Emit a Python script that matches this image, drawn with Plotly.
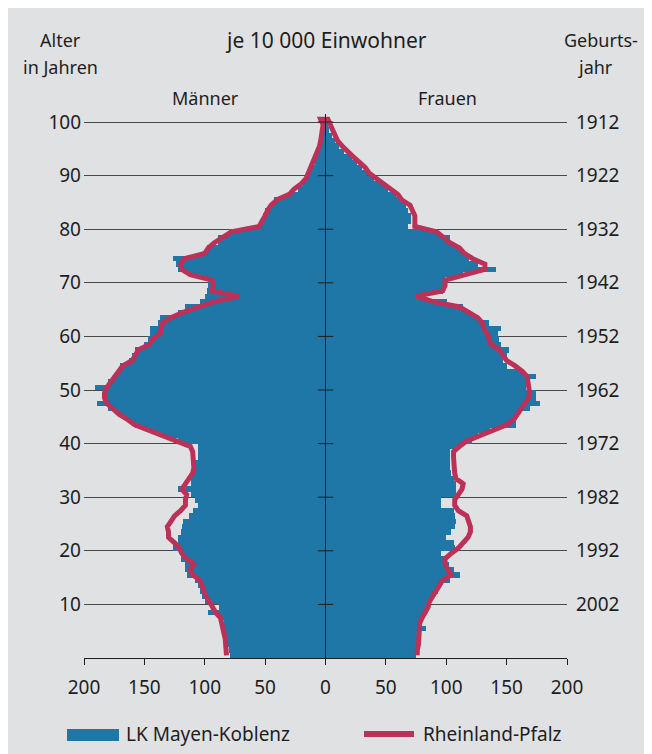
"""Alterspyramide LK Mayen-Koblenz vs. Rheinland-Pfalz (je 10 000 Einwohner)."""
import plotly.graph_objects as go

# ── data (per single year of age 0..100) ────
ages = list(range(0, 101))

mk_maenner = [
    79, 80, 82, 82, 83, 83, 84, 87, 97, 88,
    100, 102, 104, 106, 108, 115, 116, 116, 120, 118,
    126, 122, 122, 120, 119, 118, 113, 110, 106, 108,
    111, 122, 111, 111, 111, 108, 108, 106, 106, 106,
    122, 135, 145, 158, 164, 172, 180, 189, 184, 184,
    191, 180, 175, 172, 170, 163, 160, 158, 150, 147,
    145, 145, 139, 137, 122, 116, 104, 100, 98, 97,
    97, 112, 122, 124, 126, 101, 98, 89, 89, 80,
    55, 54, 52, 50, 45, 43, 30, 23, 19, 15,
    13, 11, 9, 8, 6, 4, 3, 2, 1, 1,
    1,
]
rlp_maenner = [
    82, 82, 83, 83, 84, 85, 86, 87, 91, 93,
    96, 99, 101, 103, 104, 110, 112, 109, 115, 119,
    121, 125, 130, 130, 131, 128, 125, 120, 116, 116,
    115, 119, 116, 112, 110, 109, 109, 109, 110, 112,
    123, 135, 145, 158, 164, 171, 176, 181, 183, 183,
    181, 178, 175, 172, 168, 160, 157, 155, 146, 143,
    137, 136, 135, 128, 118, 105, 92, 72, 94, 93,
    94, 112, 119, 120, 117, 100, 97, 92, 84, 78,
    55, 52, 50, 48, 45, 40, 30, 26, 20, 16,
    14, 12, 10, 8, 7, 5, 4, 3, 3, 2,
    4,
]
mk_frauen = [
    75, 75, 77, 78, 78, 83, 79, 80, 83, 86,
    87, 90, 93, 96, 103, 111, 106, 102, 100, 96,
    107, 106, 100, 104, 107, 108, 107, 106, 96, 96,
    108, 108, 108, 106, 104, 103, 103, 103, 103, 111,
    121, 126, 136, 158, 158, 159, 169, 178, 174, 174,
    166, 166, 174, 163, 150, 147, 150, 152, 145, 144,
    143, 145, 135, 126, 118, 114, 101, 75, 97, 97,
    99, 114, 141, 126, 119, 115, 111, 103, 103, 92,
    68, 71, 71, 68, 67, 62, 58, 52, 48, 40,
    34, 30, 26, 22, 15, 11, 8, 5, 3, 2,
    1,
]
rlp_frauen = [
    76, 76, 77, 77, 77, 78, 78, 80, 82, 85,
    86, 88, 91, 94, 97, 104, 101, 99, 99, 104,
    110, 114, 118, 120, 120, 119, 117, 110, 107, 107,
    110, 113, 114, 108, 107, 107, 106, 106, 106, 111,
    117, 128, 139, 150, 156, 158, 162, 165, 168, 169,
    169, 168, 167, 163, 157, 150, 147, 144, 137, 135,
    134, 131, 130, 126, 118, 111, 89, 75, 97, 99,
    99, 114, 132, 132, 122, 115, 111, 103, 98, 92,
    74, 74, 74, 72, 70, 63, 60, 55, 49, 42,
    36, 33, 28, 23, 18, 14, 10, 8, 6, 4,
    2,
]

x_ticks = [-200, -150, -100, -50, 0, 50, 100, 150, 200]
age_ticks = [10, 20, 30, 40, 50, 60, 70, 80, 90, 100]
year_labels = ["2002", "1992", "1982", "1972", "1962", "1952", "1942", "1932", "1922", "1912"]

BLUE = "#1f77a8"
RED = "#bc3158"
BG = "#e0e1e3"
TXT = "#1e1e1e"
FONT = "Noto Sans"

# ── page geometry (px, in window coordinates) ────────────────────────
# the page body adds an 8 px margin, so the figure itself is shifted
OFF = 8
W, H = 652 - OFF, 754 - OFF
L, R, T, B = 84 - OFF, 85, 114 - OFF, 96
PW, PH = W - L - R, H - T - B


def px(x):
    return (x - OFF - L) / PW


def py(y):
    return (H - B - (y - OFF)) / PH


fig = go.Figure()

mid = [a + 0.5 for a in ages]
fig.add_trace(go.Bar(
    x=[-v for v in mk_maenner], y=mid, orientation="h", width=1,
    marker=dict(color=BLUE, line_width=0), name="LK Mayen-Koblenz",
))
fig.add_trace(go.Bar(
    x=mk_frauen, y=mid, orientation="h", width=1,
    marker=dict(color=BLUE, line_width=0), showlegend=False,
))

# one continuous line: up the men's side, down the women's side
fig.add_trace(go.Scatter(
    x=[-v for v in rlp_maenner] + rlp_frauen[::-1],
    y=mid + mid[::-1],
    mode="lines", line=dict(color=RED, width=5), name="Rheinland-Pfalz",
))

# centre axis ticks
fig.add_trace(go.Scatter(
    x=[0] * len(age_ticks), y=age_ticks, yaxis="y2", mode="markers",
    marker=dict(symbol="line-ew", size=11, line=dict(color=TXT, width=1)),
    hoverinfo="skip", showlegend=False,
))

fig.add_shape(type="line", x0=0, x1=0, y0=0, y1=101.5, xref="x", yref="y",
              line=dict(color=TXT, width=1), layer="above")

fig.update_layout(
    width=W, height=H,
    margin=dict(l=L, r=R, t=T, b=B),
    paper_bgcolor=BG,
    plot_bgcolor=BG,
    font=dict(family=FONT, color=TXT, size=19),
    barmode="overlay", bargap=0,
    showlegend=False,
    xaxis=dict(
        range=[-200, 200], tickvals=x_ticks, ticktext=[str(abs(v)) for v in x_ticks],
        showgrid=False, zeroline=False, showline=True, linecolor=TXT, linewidth=1,
        ticks="outside", ticklen=6, tickcolor=TXT, ticklabelstandoff=6,
    ),
    yaxis=dict(
        range=[0, 101.5], tickvals=age_ticks, showgrid=True, gridcolor="#484848",
        gridwidth=1, zeroline=False, showline=False, ticks="", ticklabelstandoff=2,
    ),
    yaxis2=dict(
        range=[0, 101.5], overlaying="y", side="right", tickvals=age_ticks,
        ticktext=year_labels, showgrid=False, zeroline=False, showline=False,
        ticks="", ticklabelstandoff=8,
    ),
)

# ── header texts ─────────────────────────────────────────────────────
heads = [
    ("Alter", 60, 40, 18),
    ("in Jahren", 60, 67, 18),
    ("je 10 000 Einwohner", 326, 40, 21),
    ("Geburts-", 601, 40, 18),
    ("jahr", 595, 67, 18),
    ("Männer", 205, 98, 18),
    ("Frauen", 447, 98, 18),
]
for text, x, y, size in heads:
    fig.add_annotation(text=text, x=px(x), y=py(y), xref="paper", yref="paper",
                       showarrow=False, xanchor="center", yanchor="middle",
                       font=dict(size=size, color=TXT, family=FONT))

# ── legend (drawn by hand to get the wide swatches) ──────────────────
fig.add_shape(type="rect", xref="paper", yref="paper",
              x0=px(67), x1=px(119), y0=py(741), y1=py(729),
              fillcolor=BLUE, line_width=0)
fig.add_shape(type="line", xref="paper", yref="paper",
              x0=px(364), x1=px(414), y0=py(734), y1=py(734),
              line=dict(color=RED, width=6))
for text, x in [("LK Mayen-Koblenz", 124), ("Rheinland-Pfalz", 421)]:
    fig.add_annotation(text=text, x=px(x), y=py(734), xref="paper", yref="paper",
                       showarrow=False, xanchor="left", yanchor="middle",
                       font=dict(size=19, color=TXT, family=FONT))

fig.write_html("out.html")
